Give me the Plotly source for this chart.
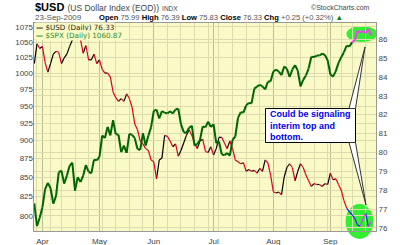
import pandas as pd
import plotly.graph_objects as go

# ---------------- data ----------------
holidays = ["2009-04-10", "2009-05-25", "2009-07-03", "2009-09-07"]
dates = [d for d in pd.bdate_range("2009-03-27", "2009-09-23") if d.strftime("%Y-%m-%d") not in holidays]

spx = [815.94, 787.53, 797.87,
       811.08, 834.38, 842.50, 835.48, 815.55, 825.16, 856.56, 858.73, 841.50, 852.06, 865.30, 869.60,
       832.39, 850.08, 843.55, 851.92, 866.23, 857.51, 855.16, 873.64, 872.81,
       877.52, 907.24, 903.80, 919.53, 907.39, 929.23, 909.24, 908.35, 883.92, 893.07, 882.88, 909.71,
       908.13, 903.47, 888.33, 887.00, 910.33, 893.06, 906.83, 919.14,
       942.87, 944.74, 931.76, 942.46, 940.09, 939.14, 942.43, 939.15, 944.89, 946.21, 923.72, 911.97,
       910.71, 918.37, 921.23, 893.04, 895.10, 900.94, 920.26, 918.90, 927.23, 919.32,
       923.33, 896.42, 898.72, 881.03, 879.56, 882.68, 879.13, 901.05, 905.84, 932.68, 940.74, 940.38,
       951.13, 954.58, 954.07, 976.29, 979.26, 982.18, 979.62, 975.15, 986.75, 987.48,
       1002.63, 1005.65, 1002.72, 997.08, 1010.48, 1007.10, 994.35, 1005.81, 1012.73, 1004.09, 979.73,
       989.67, 996.46, 1007.37, 1026.13, 1025.57, 1028.00, 1028.12, 1030.98, 1028.93, 1020.62,
       998.04, 994.75, 1003.24, 1016.40, 1025.39, 1033.37, 1044.14, 1042.73, 1049.34, 1052.63, 1068.76,
       1065.49, 1068.30, 1064.66, 1071.66, 1060.87]

usd = [84.7, 85.75, 85.5,
       85.6, 84.75, 84.25, 84.7, 85.2, 85.35, 85.3, 84.7, 85.0, 85.2, 85.6, 85.95,
       86.3, 86.5, 86.0, 85.25, 85.65, 84.9, 84.9, 85.2, 84.7,
       84.9, 84.4, 84.2, 84.2, 84.0, 83.2, 82.9, 82.7, 82.85, 82.7, 83.1, 82.85,
       82.4, 81.5, 81.2, 80.6, 80.45, 80.2, 80.1, 79.6,
       79.5, 78.6, 79.6, 79.7, 80.9, 80.85, 80.6, 80.3, 80.45, 79.8, 80.1, 80.5,
       80.9, 81.2, 80.9, 80.5, 80.2, 80.6, 80.7, 80.05, 80.0, 80.3,
       79.86, 80.2, 80.8, 80.8, 80.5, 80.2, 80.6, 80.2, 79.6, 79.5, 79.4, 79.45,
       79.0, 79.1, 79.0, 79.05, 78.9, 79.15, 79.0, 79.6, 79.45, 78.8,
       77.92, 77.85, 77.9, 77.75, 78.7, 79.2, 79.4, 79.2, 78.5, 79.0, 79.4,
       79.2, 78.8, 78.5, 78.2, 78.35, 78.3, 78.3, 78.2, 78.35, 78.3,
       78.9, 78.55, 78.6, 78.3, 78.0, 77.45, 77.05, 76.85, 76.7, 76.5, 76.15,
       76.1, 76.5, 76.78, 76.07, 76.33]

left_ticks = [800, 825, 850, 875, 900, 925, 950, 975, 1000, 1025, 1050, 1075]
right_ticks = [76, 77, 78, 79, 80, 81, 82, 83, 84, 85, 86]
month_names = ["Apr", "May", "Jun", "Jul", "Aug", "Sep"]

# ---------------- helpers ----------------
W, H = 400, 245
L, R, T, B = 34, 24, 23, 14
PW, PH = W - L - R, H - T - B


def px(x):
    return (x - L) / PW


def py(y):
    return (H - B - y) / PH


idx = list(range(len(dates)))
month_idx = [i for i in idx if i > 0 and dates[i].month != dates[i - 1].month]
week_idx = [i for i in idx if i > 0 and dates[i].weekday() < dates[i - 1].weekday() and i not in month_idx]


def segments(vals, hi_start, up_c, dn_c, hi_up, hi_dn):
    out = {}
    for i in range(len(vals) - 1):
        up = vals[i + 1] >= vals[i]
        if i >= hi_start:
            c = hi_up if up else hi_dn
        else:
            c = up_c if up else dn_c
        xs, ys = out.setdefault(c, ([], []))
        xs += [i, i + 1, None]
        ys += [vals[i], vals[i + 1], None]
    return out


fig = go.Figure()

# USD (right axis, base axis y)
for c, (xs, ys) in segments(usd, 115, "#000000", "#DD0022", "#EE33EE", "#2222EE").items():
    fig.add_trace(go.Scatter(x=xs, y=ys, mode="lines", line=dict(color=c, width=1.2),
                             yaxis="y", showlegend=False, hoverinfo="skip"))

# SPX (left log axis, overlay y2)
for c, (xs, ys) in segments(spx, 117, "#006400", "#006400", "#EE44EE", "#EE44EE").items():
    fig.add_trace(go.Scatter(x=xs, y=ys, mode="lines", line=dict(color=c, width=2),
                             yaxis="y2", showlegend=False, hoverinfo="skip"))

bg = "#FAFAC6"
grid = "#DCDCB0"
font = "Liberation Sans"

fig.update_layout(
    width=W, height=H,
    margin=dict(l=L, r=R, t=T, b=B, pad=0, autoexpand=False),
    paper_bgcolor="white", plot_bgcolor=bg,
    showlegend=False,
    xaxis=dict(range=[-0.1, 125.8], tickmode="array", tickvals=month_idx, ticktext=month_names,
               automargin=False,
               showgrid=True, gridcolor="#BDBD95", gridwidth=1, zeroline=False,
               showline=True, linecolor="#999999", mirror=True, ticks="",
               tickfont=dict(family=font, size=8, color="#444444"), ticklabelstandoff=2,
               minor=dict(tickvals=week_idx, showgrid=True, gridcolor=grid, gridwidth=1)),
    yaxis=dict(side="right", range=[75.84, 86.85], tickvals=right_ticks, automargin=False,
               showgrid=True, gridcolor=grid, zeroline=False, showline=True, linecolor="#999999",
               mirror=True, ticks="", tickfont=dict(family=font, size=8, color="#444444")),
    yaxis2=dict(overlaying="y", side="left", type="log", automargin=False,
                range=[2.8929, 3.0341], tickvals=left_ticks, ticktext=[str(v) for v in left_ticks],
                showgrid=True, gridcolor=grid, zeroline=False, showline=False,
                ticks="", tickfont=dict(family=font, size=8, color="#444444")),
)

shapes = []
# highlight ellipses (below traces)
shapes.append(dict(type="circle", xref="paper", yref="paper", layer="between",
                   x0=px(346.5), x1=px(377), y0=py(42), y1=py(26),
                   fillcolor="#33EE33", line=dict(width=0)))
shapes.append(dict(type="circle", xref="paper", yref="paper", layer="between",
                   x0=px(345.5), x1=px(373.5), y0=py(239), y1=py(204),
                   fillcolor="#33EE33", line=dict(width=0)))
# callout box and tails
shapes.append(dict(type="rect", xref="paper", yref="paper", layer="above",
                   x0=px(265.5), x1=px(355.5), y0=py(142.5), y1=py(108.5),
                   fillcolor="white", line=dict(color="#000000", width=1)))
for base_y, tip in ((108.5, (365, 47)), (142.5, (366, 205))):
    path = "M {} {} L {} {} L {} {} Z".format(px(349), py(base_y), px(355.5), py(base_y), px(tip[0]), py(tip[1]))
    shapes.append(dict(type="path", xref="paper", yref="paper", layer="above", path=path,
                       fillcolor="white", line=dict(color="#333333", width=1)))
fig.update_layout(shapes=shapes)

ann = []
# Title
ann.append(dict(x=px(33), y=py(7), xref="paper", yref="paper", xanchor="left", yanchor="middle",
                showarrow=False,
                text="<b>$USD</b> <span style='font-size:8.5px;color:#444'>(US Dollar Index (EOD))</span>"
                     " <span style='font-size:6.5px;color:#444'>INDX</span>",
                font=dict(family=font, size=11, color="#000000")))
ann.append(dict(x=px(33), y=py(17), xref="paper", yref="paper", xanchor="left", yanchor="middle",
                showarrow=False, text="23-Sep-2009", font=dict(family=font, size=8, color="#555555")))
ann.append(dict(x=px(97), y=py(17), xref="paper", yref="paper", xanchor="left", yanchor="middle",
                showarrow=False,
                text="<b style='color:#000'>Open</b> 75.99 <b style='color:#000'>High</b> 76.39 "
                     "<b style='color:#000'>Low</b> 75.83 <b style='color:#000'>Close</b> 76.33 "
                     "<b style='color:#000'>Chg</b> +0.25 (+0.32%) <span style='color:#008800'>▲</span>",
                font=dict(family=font, size=7.6, color="#555555")))
ann.append(dict(x=px(372), y=py(7), xref="paper", yref="paper", xanchor="right", yanchor="middle",
                showarrow=False, text="©StockCharts.com", font=dict(family=font, size=7, color="#444444")))
# legend
ann.append(dict(x=px(35), y=py(27), xref="paper", yref="paper", xanchor="left", yanchor="middle",
                showarrow=False, text="<b>—</b> $USD (Daily) 76.33", bgcolor=bg, borderpad=0,
                font=dict(family="DejaVu Sans", size=7.2, color="#222222")))
ann.append(dict(x=px(35), y=py(35), xref="paper", yref="paper", xanchor="left", yanchor="middle",
                showarrow=False, text="<b>—</b> $SPX (Daily) 1060.87", bgcolor=bg, borderpad=0,
                font=dict(family="DejaVu Sans", size=7.2, color="#2E8B2E")))
# callout text
ann.append(dict(x=px(267.5), y=py(125.5), xref="paper", yref="paper", xanchor="left", yanchor="middle",
                showarrow=False, align="left",
                text="<b>Could be signaling<br>interim top and<br>bottom.</b>",
                font=dict(family=font, size=9, color="#0000EE")))
fig.update_layout(annotations=ann)

fig.write_html("out.html")
